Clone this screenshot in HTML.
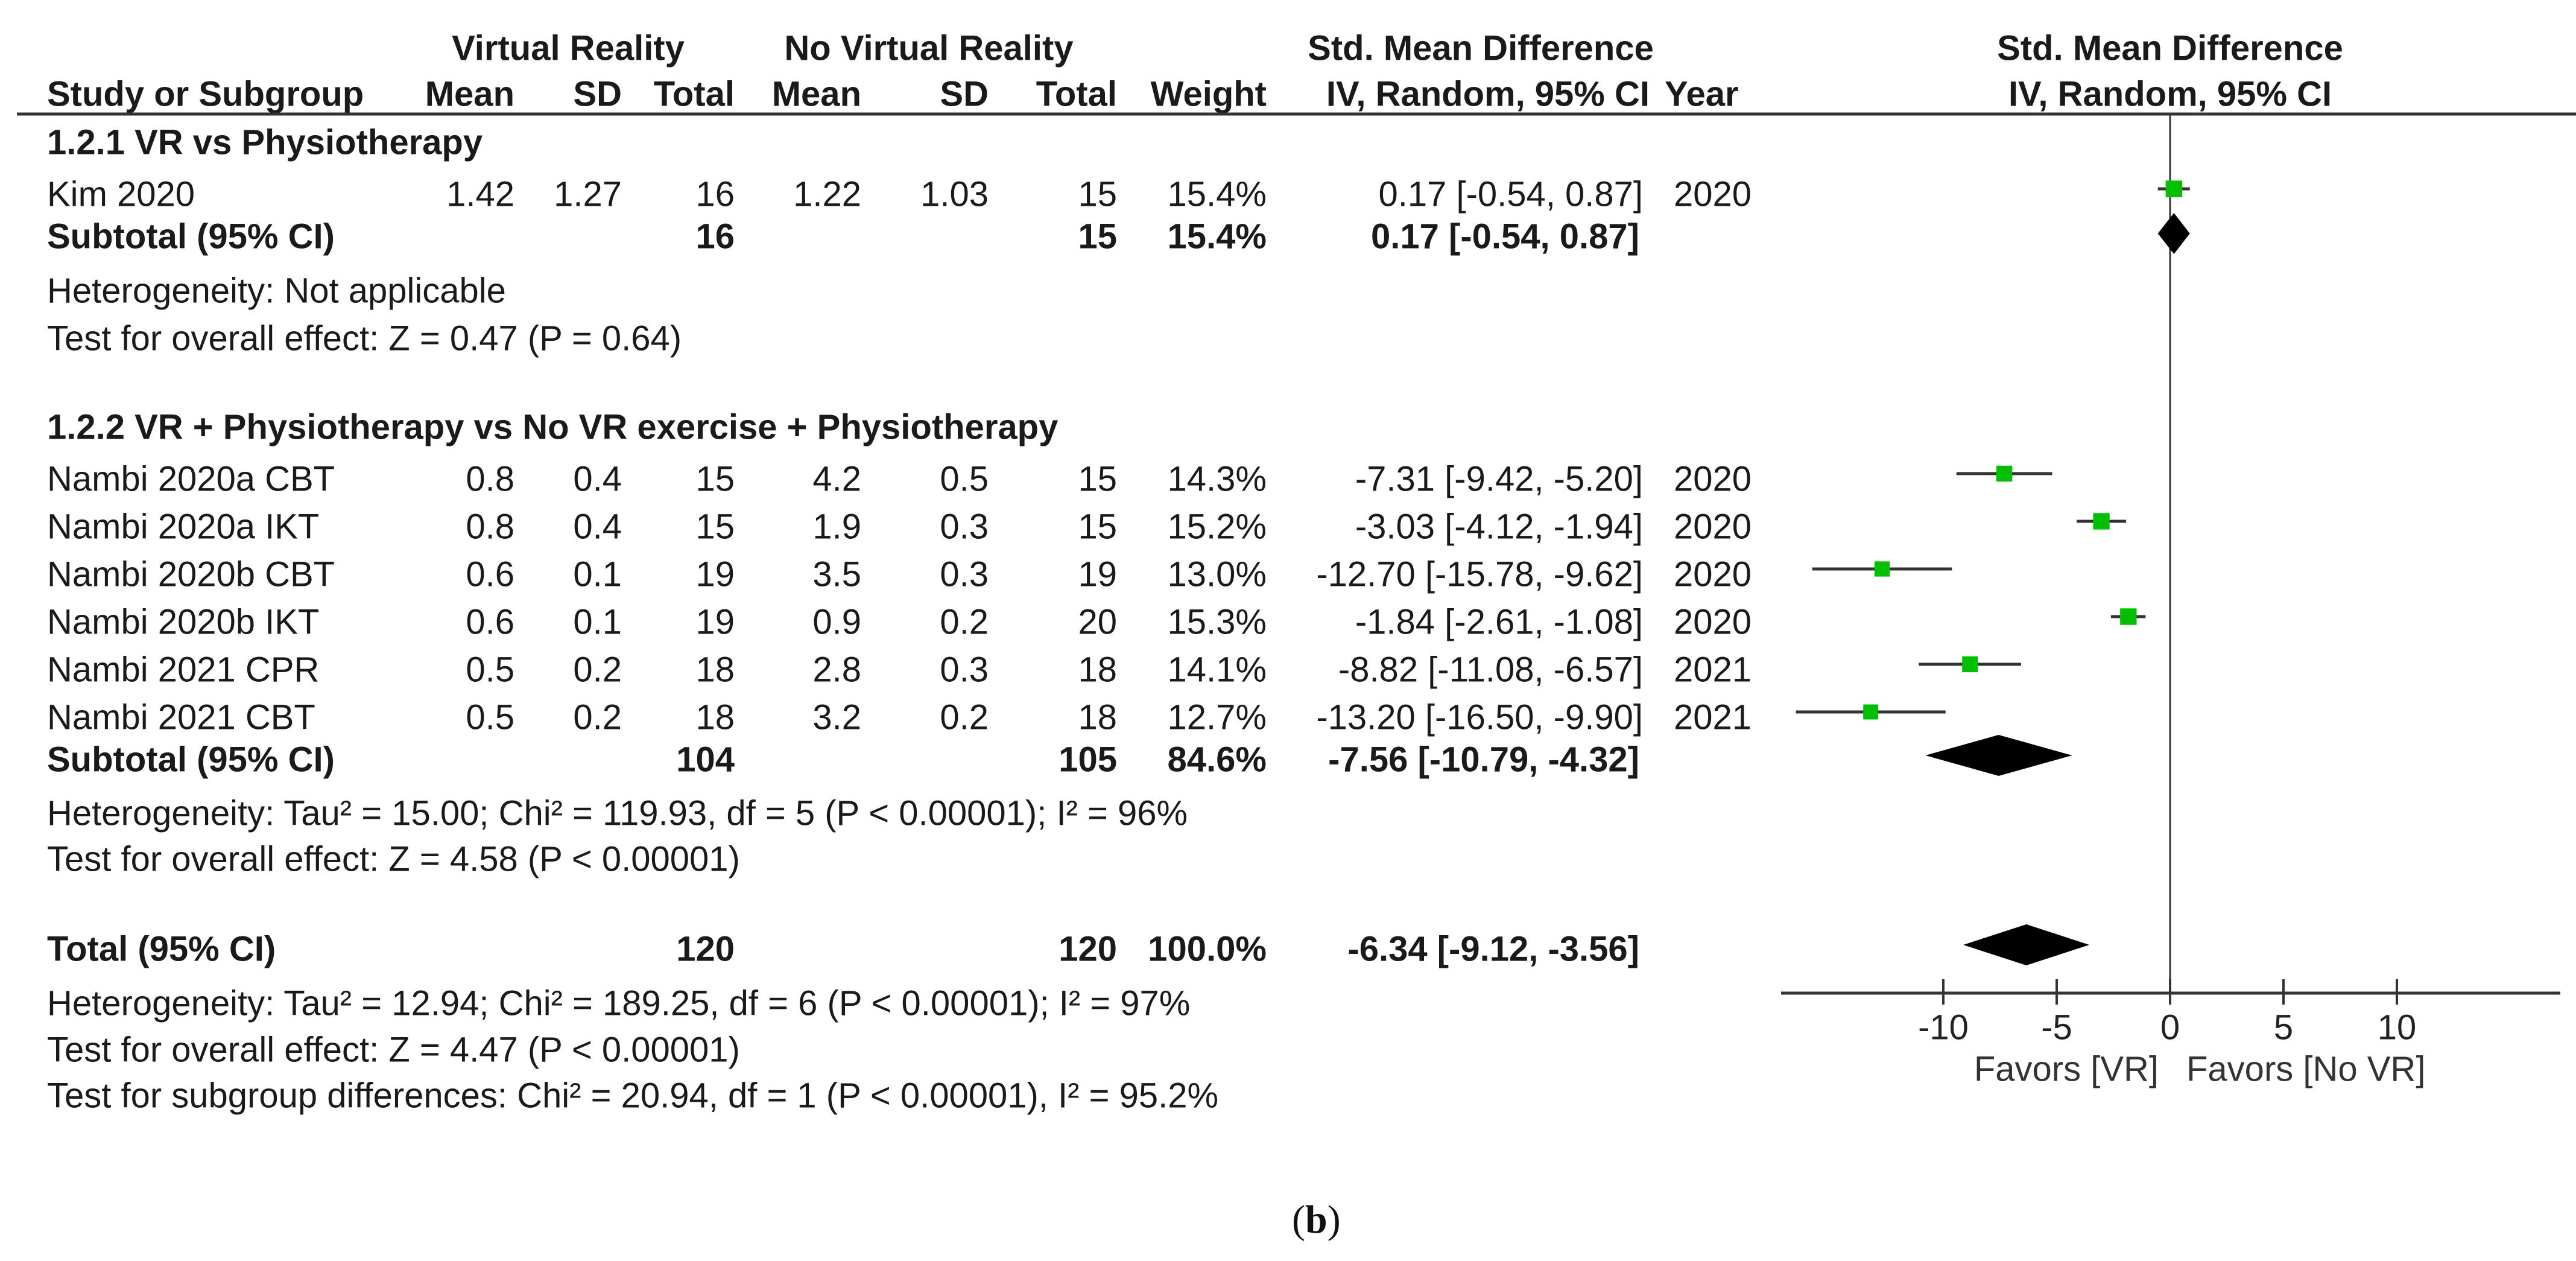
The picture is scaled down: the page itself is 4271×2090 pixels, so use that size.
<!DOCTYPE html>
<html><head><meta charset="utf-8"><style>
html,body{margin:0;padding:0;background:#fff;}
svg{display:block;}
</style></head><body>
<svg id="fig" xmlns="http://www.w3.org/2000/svg" width="4271" height="2090" viewBox="0 0 4271 2090">
<rect width="4271" height="2090" fill="#fff"/>
</svg>
<script>
// ---- data ----
const studyNames = ["Nambi 2020a CBT","Nambi 2020a IKT","Nambi 2020b CBT","Nambi 2020b IKT","Nambi 2021 CPR","Nambi 2021 CBT"];
const vrMean = ["0.8","0.8","0.6","0.6","0.5","0.5"];
const vrSD = ["0.4","0.4","0.1","0.1","0.2","0.2"];
const vrTotal = ["15","15","19","19","18","18"];
const noMean = ["4.2","1.9","3.5","0.9","2.8","3.2"];
const noSD = ["0.5","0.3","0.3","0.2","0.3","0.2"];
const noTotal = ["15","15","19","20","18","18"];
const weights = [14.3,15.2,13.0,15.3,14.1,12.7];
const smd = [-7.31,-3.03,-12.70,-1.84,-8.82,-13.20];
const ciLow = [-9.42,-4.12,-15.78,-2.61,-11.08,-16.50];
const ciHigh = [-5.20,-1.94,-9.62,-1.08,-6.57,-9.90];
const years = ["2020","2020","2020","2020","2021","2021"];
const kimSMD = 0.17, kimLow = -0.54, kimHigh = 0.87, kimWeight = 15.4;
const sub1 = [0.17,-0.54,0.87];
const sub2 = [-7.56,-10.79,-4.32];
const total = [-6.34,-9.12,-3.56];
const ticks = [-10,-5,0,5,10];
const tickLabels = ["-10","-5","0","5","10"];

const svg = document.getElementById('fig');
const NS = "http://www.w3.org/2000/svg";
const X0 = 3598, PX = 37.6, AXIS_Y = 1646;
function xs(v){ return X0 + v*PX; }
const SQ = 1.0;
function txt(s, x, y, opts){
  opts = opts || {};
  const t = document.createElementNS(NS,'text');
  t.textContent = s;
  t.setAttribute('x',0); t.setAttribute('y',0);
  t.setAttribute('transform','translate('+x+','+y+') scale('+(opts.sx||SQ)+',1)');
  t.setAttribute('font-family', opts.serif ? '"Liberation Serif", serif' : '"Liberation Sans", Arial, sans-serif');
  t.setAttribute('font-size', opts.size||58);
  t.setAttribute('fill', opts.fill||'#1a1a1a');
  if(opts.bold) t.setAttribute('font-weight','bold');
  t.setAttribute('text-anchor', opts.anchor||'start');
  t.setAttribute('dominant-baseline','central');
  
  
  svg.appendChild(t);
  return t;
}
function line(x1,y1,x2,y2,w,name,c){
  const l=document.createElementNS(NS,'line');
  l.setAttribute('x1',x1);l.setAttribute('y1',y1);l.setAttribute('x2',x2);l.setAttribute('y2',y2);
  l.setAttribute('stroke',c||'#333');l.setAttribute('stroke-width',w);
  
  
  svg.appendChild(l);
}
function diamond(v,lo,hi,y,name){
  const p=document.createElementNS(NS,'polygon');
  p.setAttribute('points',xs(lo)+','+y+' '+xs(v)+','+(y-34)+' '+xs(hi)+','+y+' '+xs(v)+','+(y+34));
  p.setAttribute('fill','#000');
  
  
  svg.appendChild(p);
}
function marker(v,lo,hi,w,y,name){
  line(xs(lo),y,xs(hi),y,5,name+'-ci','#333');
  const s=7*Math.sqrt(w);
  const r=document.createElementNS(NS,'rect');
  r.setAttribute('x',xs(v)-s/2);r.setAttribute('y',y-s/2);r.setAttribute('width',s);r.setAttribute('height',s);
  r.setAttribute('fill','#00c000');
  
  
  svg.appendChild(r);
}
const C = {name:78, vm:853, vsd:1031, vt:1218, nm:1428, nsd:1639, nt:1852, w:2100, ci:2724, yr:2775};
// headers
txt("Virtual Reality",942,80,{bold:true,anchor:'middle',name:'header-virtual-reality'});
txt("No Virtual Reality",1540,80,{bold:true,anchor:'middle',name:'header-no-virtual-reality'});
txt("Std. Mean Difference",2455,80,{bold:true,anchor:'middle',name:'header-smd'});
txt("Std. Mean Difference",X0,80,{bold:true,anchor:'middle',name:'header-smd-plot'});
const H2=156;
txt("Study or Subgroup",C.name,H2,{bold:true,name:'header-study'});
txt("Mean",C.vm,H2,{bold:true,anchor:'end',name:'header-vr-mean'});
txt("SD",C.vsd,H2,{bold:true,anchor:'end',name:'header-vr-sd'});
txt("Total",C.vt,H2,{bold:true,anchor:'end',name:'header-vr-total'});
txt("Mean",C.nm,H2,{bold:true,anchor:'end',name:'header-no-mean'});
txt("SD",C.nsd,H2,{bold:true,anchor:'end',name:'header-no-sd'});
txt("Total",C.nt,H2,{bold:true,anchor:'end',name:'header-no-total'});
txt("Weight",C.w,H2,{bold:true,anchor:'end',name:'header-weight'});
txt("IV, Random, 95% CI",2735,H2,{bold:true,anchor:'end',name:'header-ci'});
txt("Year",2760,H2,{bold:true,name:'header-year'});
txt("IV, Random, 95% CI",X0,H2,{bold:true,anchor:'middle',name:'header-ci-plot'});
line(28,189,4271,189,5,'header-rule');
// zero line
line(X0,189,X0,AXIS_Y,3,'zero-line');
// group 1
txt("1.2.1 VR vs Physiotherapy",C.name,236,{bold:true,name:'subgroup-1-title'});
let y=322;
txt("Kim 2020",C.name,y,{name:'study-name'});
txt("1.42",C.vm,y,{anchor:'end'});txt("1.27",C.vsd,y,{anchor:'end'});txt("16",C.vt,y,{anchor:'end'});
txt("1.22",C.nm,y,{anchor:'end'});txt("1.03",C.nsd,y,{anchor:'end'});txt("15",C.nt,y,{anchor:'end'});
txt(kimWeight.toFixed(1)+"%",C.w,y,{anchor:'end'});
txt(kimSMD.toFixed(2)+" ["+kimLow.toFixed(2)+", "+kimHigh.toFixed(2)+"]",C.ci,y,{anchor:'end'});
txt("2020",C.yr,y);
marker(kimSMD,kimLow,kimHigh,kimWeight,y-9,'study-marker-kim');
y=392;
txt("Subtotal (95% CI)",C.name,y,{bold:true,name:'subtotal-1'});
txt("16",C.vt,y,{bold:true,anchor:'end'});txt("15",C.nt,y,{bold:true,anchor:'end'});
txt("15.4%",C.w,y,{bold:true,anchor:'end'});
txt(sub1[0].toFixed(2)+" ["+sub1[1].toFixed(2)+", "+sub1[2].toFixed(2)+"]",2718,y,{bold:true,anchor:'end'});
diamond(sub1[0],sub1[1],sub1[2],y-5,'subtotal-1-diamond');
txt("Heterogeneity: Not applicable",C.name,482,{name:'heterogeneity-1'});
txt("Test for overall effect: Z = 0.47 (P = 0.64)",C.name,561,{name:'overall-effect-1'});
// group 2
txt("1.2.2 VR + Physiotherapy vs No VR exercise + Physiotherapy",C.name,708,{bold:true,name:'subgroup-2-title'});
for(let i=0;i<studyNames.length;i++){
  const yy=794+79*i;
  txt(studyNames[i],C.name,yy,{name:'study-name'});
  txt(vrMean[i],C.vm,yy,{anchor:'end'});txt(vrSD[i],C.vsd,yy,{anchor:'end'});txt(vrTotal[i],C.vt,yy,{anchor:'end'});
  txt(noMean[i],C.nm,yy,{anchor:'end'});txt(noSD[i],C.nsd,yy,{anchor:'end'});txt(noTotal[i],C.nt,yy,{anchor:'end'});
  txt(weights[i].toFixed(1)+"%",C.w,yy,{anchor:'end'});
  txt(smd[i].toFixed(2)+" ["+ciLow[i].toFixed(2)+", "+ciHigh[i].toFixed(2)+"]",C.ci,yy,{anchor:'end'});
  txt(years[i],C.yr,yy);
  marker(smd[i],ciLow[i],ciHigh[i],weights[i],yy-9,'study-marker');
}
y=1259;
txt("Subtotal (95% CI)",C.name,y,{bold:true,name:'subtotal-2'});
txt("104",C.vt,y,{bold:true,anchor:'end'});txt("105",C.nt,y,{bold:true,anchor:'end'});
txt("84.6%",C.w,y,{bold:true,anchor:'end'});
txt(sub2[0].toFixed(2)+" ["+sub2[1].toFixed(2)+", "+sub2[2].toFixed(2)+"]",2718,y,{bold:true,anchor:'end'});
diamond(sub2[0],sub2[1],sub2[2],y-7,'subtotal-2-diamond');
txt("Heterogeneity: Tau² = 15.00; Chi² = 119.93, df = 5 (P < 0.00001); I² = 96%",C.name,1348,{name:'heterogeneity-2'});
txt("Test for overall effect: Z = 4.58 (P < 0.00001)",C.name,1424,{name:'overall-effect-2'});
// total
y=1573;
txt("Total (95% CI)",C.name,y,{bold:true,name:'total'});
txt("120",C.vt,y,{bold:true,anchor:'end'});txt("120",C.nt,y,{bold:true,anchor:'end'});
txt("100.0%",C.w,y,{bold:true,anchor:'end'});
txt(total[0].toFixed(2)+" ["+total[1].toFixed(2)+", "+total[2].toFixed(2)+"]",2718,y,{bold:true,anchor:'end'});
diamond(total[0],total[1],total[2],y-7,'total-diamond');
txt("Heterogeneity: Tau² = 12.94; Chi² = 189.25, df = 6 (P < 0.00001); I² = 97%",C.name,1663,{name:'heterogeneity-total'});
txt("Test for overall effect: Z = 4.47 (P < 0.00001)",C.name,1740,{name:'overall-effect-total'});
txt("Test for subgroup differences: Chi² = 20.94, df = 1 (P < 0.00001), I² = 95.2%",C.name,1816,{name:'subgroup-differences'});
// axis
line(2953,AXIS_Y,4245,AXIS_Y,5,'x-axis');
for(let i=0;i<ticks.length;i++){
  line(xs(ticks[i]),AXIS_Y-23,xs(ticks[i]),AXIS_Y+19,4,'x-tick');
  txt(tickLabels[i],xs(ticks[i]),1703,{anchor:'middle',name:'x-tick-label',fill:'#222',size:58});
}
txt("Favors [VR]",3579,1772,{anchor:'end',name:'favors-vr-label',fill:'#333',size:58});
txt("Favors [No VR]",3625,1772,{name:'favors-no-vr-label',fill:'#333',size:58});
// caption
const cap=txt("",2142,2021,{serif:true,size:66,sx:1,name:'caption-b',fill:'#111'});
const t1=document.createElementNS(NS,'tspan');t1.textContent='(';cap.appendChild(t1);
const t2=document.createElementNS(NS,'tspan');t2.textContent='b';t2.setAttribute('font-weight','bold');cap.appendChild(t2);
const t3=document.createElementNS(NS,'tspan');t3.textContent=')';cap.appendChild(t3);
</script>
</body></html>
